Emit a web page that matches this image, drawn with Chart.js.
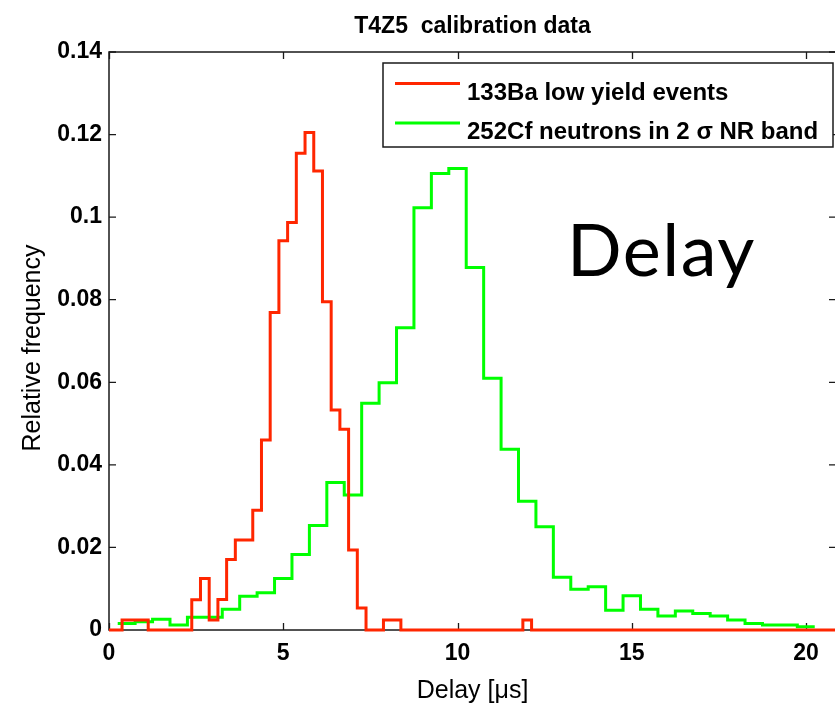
<!DOCTYPE html>
<html>
<head>
<meta charset="utf-8">
<script src="https://cdn.jsdelivr.net/npm/chart.js@4.4.0/dist/chart.umd.min.js"></script>
<style>
html,body{margin:0;padding:0;background:#fff;overflow:hidden;}
#wrap{position:relative;width:838px;height:704px;}
</style>
</head>
<body>
<div id="wrap"><canvas id="c" width="838" height="704"></canvas></div>
<script>
const chartTitle = 'T4Z5  calibration data';
const xLabel = 'Delay [\u03bcs]';
const yLabel = 'Relative frequency';
const overlayText = 'Delay';
const seriesNames = ['133Ba low yield events', '252Cf neutrons in 2 \u03c3 NR band'];
const seriesColors = ['rgb(255,38,0)', 'rgb(0,255,0)'];

const xTicks = [0, 5, 10, 15, 20];
const xTickLabels = ['0', '5', '10', '15', '20'];
const yTicks = [0, 0.02, 0.04, 0.06, 0.08, 0.1, 0.12, 0.14];
const yTickLabels = ['0', '0.02', '0.04', '0.06', '0.08', '0.1', '0.12', '0.14'];

// 133Ba histogram: bin centres [us] and relative frequency
const baCenters = [0,0.25,0.5,0.75,1,1.25,1.5,1.75,2,2.25,2.5,2.75,3,3.25,3.5,3.75,4,4.25,4.5,4.75,
  5,5.25,5.5,5.75,6,6.25,6.5,6.75,7,7.25,7.5,7.75,8,8.25,8.5,8.75,9,9.25,9.5,9.75,
  10,10.25,10.5,10.75,11,11.25,11.5,11.75,12,12.25,12.5,12.75,13,13.25,13.5,13.75,14,14.25,14.5,14.75,
  15,15.25,15.5,15.75,16,16.25,16.5,16.75,17,17.25,17.5,17.75,18,18.25,18.5,18.75,19,19.25,19.5,19.75,
  20,20.25,20.5,20.75,21];
const baValues = [0,0,0.0024,0.0024,0.0024,0,0,0,0,0,0.0073,0.0125,0.0024,0.0074,0.0171,0.0218,0.0218,0.029,0.046,0.0769,
  0.0943,0.0987,0.1155,0.1205,0.1112,0.0795,0.0533,0.0486,0.0194,0.0053,0,0,0.0024,0.0024,0,0,0,0,0,0,
  0,0,0,0,0,0,0,0,0.0024,0,0,0,0,0,0,0,0,0,0,0,
  0,0,0,0,0,0,0,0,0,0,0,0,0,0,0,0,0,0,0,0,
  0,0,0,0,0];

// 252Cf histogram: bin centres [us] and relative frequency
const cfCenters = [0.5,1,1.5,2,2.5,3,3.5,4,4.5,5,5.5,6,6.5,7,7.5,8,8.5,9,9.5,10,
  10.5,11,11.5,12,12.5,13,13.5,14,14.5,15,15.5,16,16.5,17,17.5,18,18.5,19,19.5,20];
const cfValues = [0.0016,0.0020,0.0026,0.0012,0.0031,0.0031,0.0050,0.0082,0.0090,0.0125,
  0.0183,0.0253,0.0357,0.0327,0.0549,0.0599,0.0732,0.1023,0.1106,0.1118,
  0.0878,0.0610,0.0438,0.0312,0.0250,0.0128,0.0099,0.0105,0.0048,0.0083,
  0.0050,0.0034,0.0046,0.0040,0.0034,0.0024,0.0016,0.0012,0.0012,0.0008];

function toSteps(centers, values) {
  const w = centers[1] - centers[0];
  const pts = centers.map((c, i) => ({x: c - w / 2, y: values[i]}));
  pts.push({x: centers[centers.length - 1] + w / 2, y: values[values.length - 1]});
  return pts;
}

const FONT_BOLD = 'bold 23px "Liberation Sans", Arial, sans-serif';

const decor = {
  id: 'decor',
  beforeDatasetsDraw(chart) {
    const {ctx, chartArea: a, scales: {x, y}} = chart;
    ctx.save();
    ctx.strokeStyle = '#1a1a1a';
    ctx.lineWidth = 1.5;
    ctx.strokeRect(a.left, a.top, a.right - a.left, a.bottom - a.top);
    ctx.lineWidth = 1.3;
    ctx.beginPath();
    xTicks.forEach(v => {
      const px = Math.round(x.getPixelForValue(v)) + 0.5;
      ctx.moveTo(px, a.bottom); ctx.lineTo(px, a.bottom - 7);
      ctx.moveTo(px, a.top); ctx.lineTo(px, a.top + 7);
    });
    yTicks.forEach(v => {
      const py = y.getPixelForValue(v);
      ctx.moveTo(a.left, py); ctx.lineTo(a.left + 7, py);
      ctx.moveTo(a.right, py); ctx.lineTo(a.right - 7, py);
    });
    ctx.stroke();
    ctx.restore();
  },
  afterDraw(chart) {
    const {ctx, chartArea: a} = chart;
    const cx = (a.left + a.right) / 2;
    ctx.save();
    ctx.fillStyle = '#000';
    ctx.textBaseline = 'alphabetic';
    // title
    ctx.font = FONT_BOLD;
    ctx.textAlign = 'center';
    ctx.fillText(chartTitle, cx, 33);
    // x label
    ctx.font = '25px "Liberation Sans", Arial, sans-serif';
    ctx.fillText(xLabel, cx, 698);
    // y label
    ctx.save();
    ctx.translate(40, 348);
    ctx.rotate(-Math.PI / 2);
    ctx.fillText(yLabel, 0, 0);
    ctx.restore();
    // legend
    ctx.fillStyle = '#fff';
    ctx.fillRect(383, 63, 450, 84);
    ctx.strokeStyle = '#1a1a1a';
    ctx.lineWidth = 1.5;
    ctx.strokeRect(383, 63, 450, 84);
    const rows = [83.5, 123];
    seriesNames.forEach((name, i) => {
      ctx.strokeStyle = seriesColors[i];
      ctx.lineWidth = 3;
      ctx.beginPath();
      ctx.moveTo(395, rows[i]); ctx.lineTo(460, rows[i]);
      ctx.stroke();
      ctx.fillStyle = '#000';
      ctx.textAlign = 'left';
      ctx.font = 'bold 24px "Liberation Sans", Arial, sans-serif';
      ctx.fillText(name, 467, rows[i] + 16);
    });
    // overlay word
    ctx.font = '72px Lato, "Open Sans", sans-serif';
    ctx.textAlign = 'left';
    ctx.fillStyle = '#000';
    try { ctx.letterSpacing = '1.5px'; } catch (e) {}
    ctx.fillText(overlayText, 567, 276);
    ctx.restore();
  }
};

new Chart(document.getElementById('c'), {
  type: 'line',
  data: {
    datasets: [
      {label: seriesNames[0], data: toSteps(baCenters, baValues), borderColor: seriesColors[0],
       borderWidth: 3, stepped: 'before', pointRadius: 0, fill: false,
       clip: {left: 0, top: 5, right: 5, bottom: 5}},
      {label: seriesNames[1], data: toSteps(cfCenters, cfValues), borderColor: seriesColors[1],
       borderWidth: 3, stepped: 'before', pointRadius: 0, fill: false,
       clip: {left: 0, top: 5, right: 5, bottom: 5}}
    ]
  },
  options: {
    responsive: false,
    animation: false,
    devicePixelRatio: 1,
    layout: {padding: {top: 52, right: 2, bottom: 0, left: 0}},
    plugins: {legend: {display: false}, tooltip: {enabled: false}, title: {display: false}},
    elements: {line: {borderJoinStyle: 'miter', borderCapStyle: 'butt', tension: 0}},
    scales: {
      x: {
        type: 'linear', min: 0, max: 20.86,
        grid: {display: false, drawTicks: false}, border: {display: false},
        afterFit: s => { s.height = 74; },
        afterBuildTicks: s => { s.ticks = xTicks.map(v => ({value: v})); },
        ticks: {autoSkip: false, maxRotation: 0, padding: 10, color: '#000',
          font: {family: '"Liberation Sans", Arial, sans-serif', size: 23, weight: 'bold'},
          callback: (v, i) => xTickLabels[i]}
      },
      y: {
        type: 'linear', min: 0, max: 0.14,
        grid: {display: false, drawTicks: false}, border: {display: false},
        afterFit: s => { s.width = 109; },
        afterBuildTicks: s => { s.ticks = yTicks.map(v => ({value: v})); },
        ticks: {autoSkip: false, padding: 7, color: '#000',
          font: {family: '"Liberation Sans", Arial, sans-serif', size: 23, weight: 'bold'},
          callback: (v, i) => yTickLabels[i]}
      }
    }
  },
  plugins: [decor]
});
</script>
</body>
</html>
